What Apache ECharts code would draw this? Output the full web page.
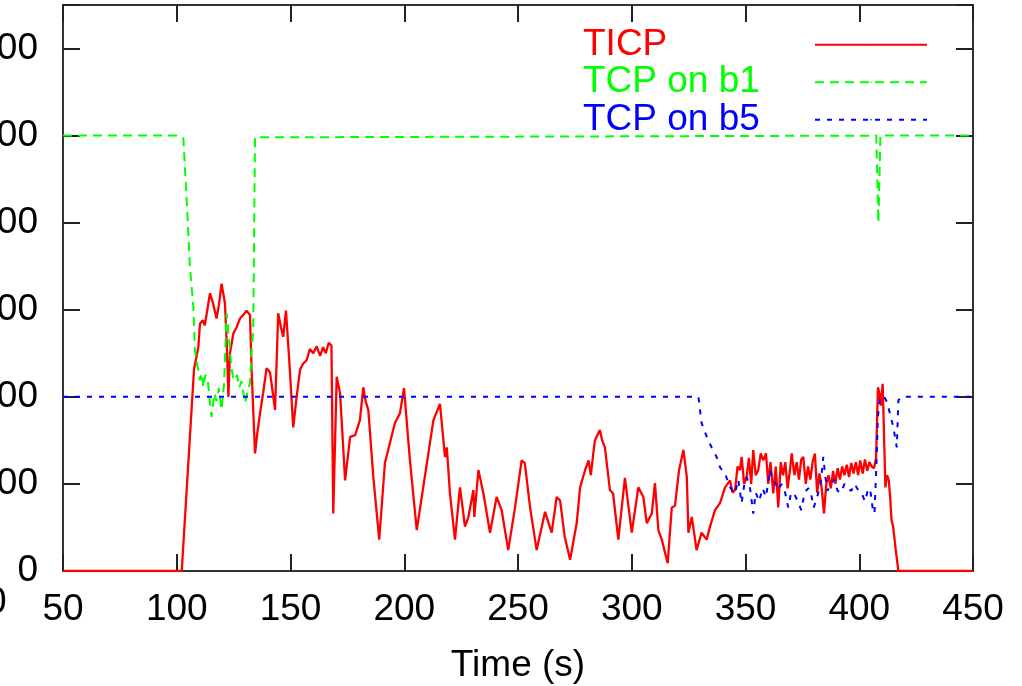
<!DOCTYPE html>
<html>
<head>
<meta charset="utf-8">
<script src="https://cdn.jsdelivr.net/npm/echarts@6/dist/echarts.min.js"></script>
<style>
html,body{margin:0;padding:0;background:#fff;}
#chart{width:1022px;height:686px;}
</style>
</head>
<body>
<div id="chart"></div>
<script>
// ---- Data (time in s, throughput values) ----
const seriesNames = ['TICP', 'TCP on b1', 'TCP on b5'];
const xTicks = [50, 100, 150, 200, 250, 300, 350, 400, 450];
const yTicks = [0, 100, 200, 300, 400, 500, 600];

const ticpT = [50,102.2,107.6,108.2,109.5,110.2,111.5,112.3,113.2,114.6,116,117.5,118.5,119.7,120.5,121.2,122,122.7,123.4,124.9,126.3,127.8,129.2,130.7,132.2,132.9,134.4,135.5,136.6,138,139.5,141,142.2,143.2,144.6,145.8,146.8,148,149.5,151.2,152.7,154.2,155.5,157.1,158.5,160,161.5,163,164.3,165.5,166.8,168,168.8,170.3,171.8,174,176.2,178.4,180.5,182,183,184.2,186.4,189,191.5,193.7,195.9,198.1,199.9,202.5,205.5,207.7,210.6,212.8,215.7,217.9,218.7,220.1,222.3,224.5,226.7,228.2,230.4,230.8,232.6,234.8,237.7,240.6,242.8,245.7,248.7,251.6,253,255.3,258.2,261.9,264.8,267,268.5,270.5,272.9,275.8,277.3,279.5,281,282,283.1,283.8,286,287,288.2,290.4,291.8,294.1,297,300,302.9,305.1,306.6,308.8,310.2,311.7,313.2,315.8,317.6,319,320.8,322.7,324.2,324.9,326.4,328.5,330.7,332.9,334.4,336.6,338.8,341,343.2,344.3,345.4,346.5,347.6,348.3,349.4,350.5,351.5,352.5,353.4,354.5,355.6,356.7,357.8,359,360,361,362.2,363.3,364.4,365.5,366.5,367.5,368.5,369.5,370.3,371.5,372.5,373.5,374.5,375.4,376.5,377.5,378.5,379.5,380.5,381.5,382.5,383.5,384.5,385.5,386.5,387.5,388.5,389.5,390.5,391.5,392.5,393.5,394.5,395.5,396.5,397.5,398.5,399.5,400.4,401.5,402.5,403.5,404.5,405.5,406.5,407.4,408.2,408.8,409.5,410.3,411.5,412.2,413,413.7,414.2,414.9,416,417.2,450];
const ticpV = [0,0,232,240,257,284,288,282,296,319,307,290,305,330,318,307,260,200,250,273,280,290,294,299,294,231,135,160,181,205,233,228,205,185,296,280,269,299,240,165,200,231,238,242,255,250,258,247,257,250,262,259,66,223,204,104,154,156,173,211,195,185,108,36,124,147,170,181,210,127,47,85,135,173,192,131,142,89,36,96,51,62,93,62,116,89,44,85,70,24,73,127,124,73,24,68,44,85,81,40,13,55,96,116,127,110,135,150,162,150,142,93,89,36,107,44,96,85,55,66,101,47,36,9,73,75,116,139,108,44,62,24,44,36,51,70,78,96,104,90,93,120,116,131,100,108,130,100,139,110,116,135,127,135,100,125,89,120,73,125,110,125,95,115,135,110,125,105,128,131,100,120,105,125,135,90,112,95,66,100,110,95,115,100,118,105,120,110,122,108,124,112,125,110,127,112,128,115,125,120,118,130,211,205,190,215,96,110,104,80,58,51,25,0,0];

const b1T = [50,100.7,102.9,104.4,105.8,107.3,108,108.8,110.2,111,111.7,112.5,113.6,114.6,115.3,116.5,117.5,118.5,119.7,120.8,121.9,122.7,123.2,124,125,126.5,127.5,128.5,130,131,132.2,133,133.6,134.4,135,407.5,408.4,409.3,450];
const b1V = [500,500,497,425,349,303,253,240,219,227,211,225,220,193,177,204,195,210,185,215,296,296,260,234,219,225,211,218,193,205,216,260,273,498,500,500,400,500,500];

const b5T = [50,329.3,330,330.7,333,335.1,337.3,338.8,341,343.2,345.4,346.8,348.3,349.5,350.5,352,353.4,354.5,356,357.5,359,360.8,362,363.3,364.5,365.8,367,368.8,370,371.5,373,374.5,376,377.5,378.5,380,381.5,383,384.2,385,386,387.5,389,390.5,392,393.5,395,396.5,398,399.5,401,402.5,404,405,406,406.7,407.5,408.2,409.1,411,412,413.5,415,416.5,417.2,418.5,450];
const b5V = [200,200,185,170,154,142,131,119,112,96,89,105,78,100,108,95,66,90,80,95,85,116,105,100,93,100,95,73,90,88,80,70,90,95,93,73,85,100,131,110,92,100,105,92,90,100,95,92,100,93,90,80,95,90,70,66,119,177,200,200,195,181,165,142,196,200,200];

const seriesColors = ['#ff0000', '#00ff00', '#0000ff'];

function pairs(t, v) { return t.map((x, i) => [x, v[i]]); }

const FONT = 'Liberation Sans, Arial, sans-serif';
const chart = echarts.init(document.getElementById('chart'), null, {renderer: 'canvas'});

const frameLine = {show: true, onZero: false, lineStyle: {color: '#333', width: 2}};
const tickIn = {show: true, inside: true, length: 17, lineStyle: {color: '#222', width: 2}};

chart.setOption({
  animation: false,
  backgroundColor: '#ffffff',
  grid: {left: 63, right: 49, top: 5, bottom: 115, containLabel: false, outerBoundsMode: 'none'},
  legend: {
    orient: 'vertical', left: 583, top: 26, align: 'right', padding: 0,
    itemGap: 0, itemWidth: 112, itemHeight: 2,
    formatter: '{a|{name}}',
    textStyle: {fontSize: 37, fontFamily: FONT, lineHeight: 37.5,
      rich: {a: {width: 227, fontSize: 37, fontFamily: FONT, lineHeight: 37.5, align: 'left'}}},
    data: seriesNames.map((n, i) => ({name: n, textStyle: {color: seriesColors[i]}}))
  },
  xAxis: [
    {type: 'value', min: 50, max: 450, interval: 50, position: 'bottom',
     name: 'Time (s)', nameLocation: 'middle', nameGap: 76,
     nameTextStyle: {fontSize: 37, fontFamily: FONT, color: '#000'},
     axisLine: frameLine, axisTick: tickIn, splitLine: {show: false},
     axisLabel: {show: true, fontSize: 37, fontFamily: FONT, color: '#000', margin: 20,
       formatter: v => (xTicks.indexOf(v) >= 0 ? String(v) : '')}},
    {type: 'value', min: 50, max: 450, interval: 50, position: 'top',
     axisLine: frameLine, axisTick: tickIn, splitLine: {show: false}, axisLabel: {show: false}}
  ],
  yAxis: [
    {type: 'value', min: 0, max: 650, interval: 100, position: 'left',
     axisLine: frameLine, axisTick: tickIn, splitLine: {show: false},
     axisLabel: {show: true, fontSize: 37, fontFamily: FONT, color: '#000', margin: 25,
       formatter: v => (yTicks.indexOf(v) >= 0 ? String(v) : '')}},
    {type: 'value', min: 0, max: 650, interval: 100, position: 'right',
     axisLine: frameLine, axisTick: tickIn, splitLine: {show: false}, axisLabel: {show: false}}
  ],
  graphic: [
    {type: 'text', left: -14, top: 584, style: {text: '0', fontSize: 37, fontFamily: FONT, fill: '#000'}}
  ],
  series: [
    {name: seriesNames[0], type: 'line', symbol: 'none', data: pairs(ticpT, ticpV),
     lineStyle: {color: seriesColors[0], width: 2.3}, itemStyle: {color: seriesColors[0]}},
    {name: seriesNames[1], type: 'line', symbol: 'none', data: pairs(b1T, b1V),
     lineStyle: {color: seriesColors[1], width: 2, type: [9, 6]}, itemStyle: {color: seriesColors[1]}},
    {name: seriesNames[2], type: 'line', symbol: 'none', data: pairs(b5T, b5V),
     lineStyle: {color: seriesColors[2], width: 2, type: [5, 7]}, itemStyle: {color: seriesColors[2]}}
  ]
});
</script>
</body>
</html>
